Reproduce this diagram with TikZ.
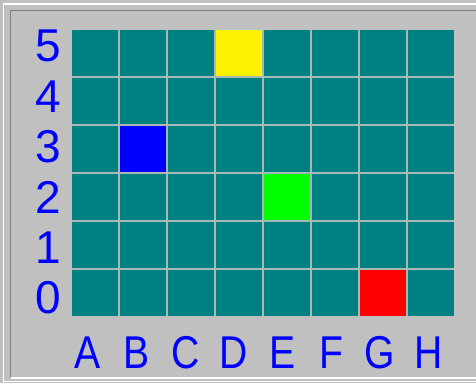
\documentclass[tikz,border=0pt]{standalone}
\usepackage{fontspec}
\setmainfont{Liberation Sans}
\usepackage{tikz}
\usetikzlibrary{positioning}
\definecolor{boardTeal}{RGB}{0,128,128}
\definecolor{boardGap}{RGB}{168,184,180}
\definecolor{frameGrey}{RGB}{192,192,192}
\definecolor{frameDark}{RGB}{128,128,128}
\definecolor{labelBlue}{RGB}{0,0,255}
\begin{document}
\begin{tikzpicture}[
  x=1pt,y=-1pt,
  cell/.style={fill=boardTeal,minimum size=46pt,inner sep=0pt,outer sep=0pt},
  lbl/.style={text=labelBlue,inner sep=0pt,font=\fontsize{46}{46}\selectfont}
]
\useasboundingbox (0,0) rectangle (476,383);
\fill[frameGrey] (0,0) rectangle (476,383);
% sunken frame
\draw[white,line width=1.5pt] (3.5,383) -- (3.5,4) -- (476,4);
\draw[frameDark,line width=1.5pt] (10.5,377) -- (10.5,10.5) -- (476,10.5);
\draw[white,line width=1.5pt] (10.5,378) -- (476,378);
\draw[white,line width=1pt] (3.5,381) -- (476,381);
% board
\fill[boardGap] (72,30) rectangle (454,316);
\foreach \i in {0,...,7}{
  \foreach \j in {0,...,5}{
    \node[cell] (c-\i-\j) at ({72+23+48*\i},{30+23+48*(5-\j)}) {};
  }
}
\node[cell,fill=yellow] (pD5) at (c-3-5) {};
\node[cell,fill=blue] (pB3) at (c-1-3) {};
\node[cell,fill=green] (pE2) at (c-4-2) {};
\node[cell,fill=red] (pG0) at (c-6-0) {};
% labels
\foreach \r in {0,...,5}{
  \node[lbl] (row\r) at (48,{46+50.4*(5-\r)}) {\r};
}
\foreach \c [count=\n from 0] in {A,B,C,D,E,F,G,H}{
  \node[lbl,xscale=0.85] (col\c) at ({88+48.6*\n},353) {\c};
}
\end{tikzpicture}
\end{document}
